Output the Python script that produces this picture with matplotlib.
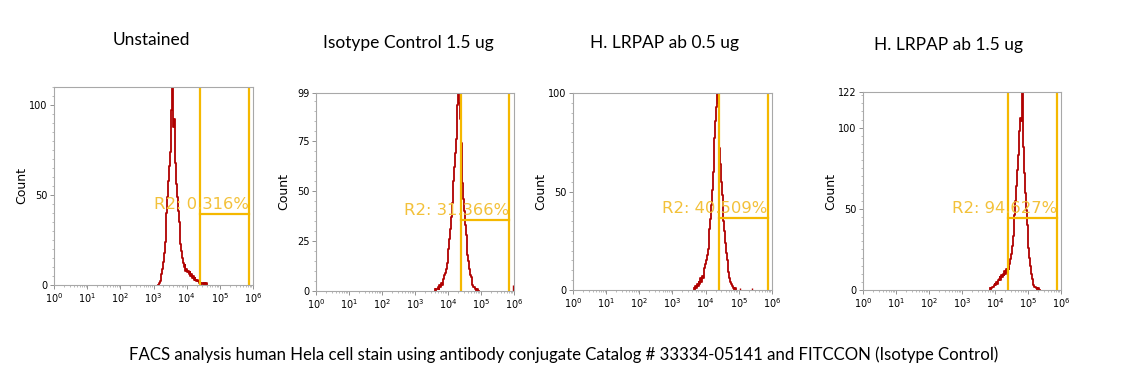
import numpy as np
import matplotlib
matplotlib.use("Agg")
import matplotlib.pyplot as plt
from matplotlib.ticker import LogLocator, LogFormatterSciNotation, FixedLocator, MultipleLocator, NullFormatter

# panel titles and gate results
titles = ["Unstained", "Isotype Control 1.5 ug", "H. LRPAP ab 0.5 ug", "H. LRPAP ab 1.5 ug"]
gate_labels = ["R2: 0.316%", "R2: 31.366%", "R2: 40.509%", "R2: 94.627%"]
caption = "FACS analysis human Hela cell stain using antibody conjugate Catalog # 33334-05141 and FITCCON (Isotype Control)"

# y axis setup per panel
y_max = [110, 99, 100, 122]
y_ticks = [[0, 50, 100], [0, 25, 50, 75, 99], [0, 50, 100], [0, 50, 100, 122]]

# gate (log10 of left/right edge) and height of the horizontal marker
gate_lo = [4.40, 4.39, 4.40, 4.39]
gate_hi = [5.87, 5.85, 5.87, 5.88]
gate_y = [39.5, 35.5, 36.5, 44.5]

# histogram channels, log10 start and width
bin_w = 0.025
start1 = 3.15
counts1 = [0, 1, 2, 3, 6, 9, 13, 18, 24, 32, 40, 49, 58, 66, 74, 86, 97, 110, 88, 92,
           76, 68, 56, 49, 41, 35, 29, 23, 19, 15, 12, 10, 11, 8, 9, 7, 8, 6, 7, 5,
           6, 4, 5, 3, 4, 3, 2, 3, 2, 1, 2, 1, 0, 1, 1, 0, 1, 0, 1, 0]
start2 = 3.60
counts2 = [1, 0, 1, 1, 2, 1, 3, 2, 4, 3, 5, 6, 8, 9, 11, 14, 17, 21, 26, 31,
           37, 44, 50, 55, 62, 69, 76, 84, 93, 99, 94, 86, 74, 63, 54, 46, 40, 33, 28, 23,
           18, 15, 11, 8, 7, 5, 3, 2, 2, 1, 1, 0, 1, 0]
start3 = 3.65
counts3 = [1, 0, 2, 1, 3, 2, 4, 3, 6, 4, 7, 6, 9, 11, 13, 15, 18, 21, 26, 31,
           36, 43, 51, 60, 69, 77, 86, 93, 100, 95, 91, 72, 64, 55, 48, 41, 35, 30, 24, 19,
           15, 12, 9, 6, 4, 3, 2, 1, 1, 0, 1, 0]
start4 = 3.85
counts4 = [1, 0, 1, 2, 2, 3, 4, 3, 5, 4, 6, 7, 8, 6, 9, 8, 10, 9, 12, 10,
           13, 11, 14, 13, 16, 19, 22, 27, 33, 39, 46, 55, 64, 74, 83, 90, 98, 106, 104, 122,
           108, 88, 72, 60, 49, 40, 31, 26, 20, 15, 10, 7, 5, 3, 2, 2, 1, 1, 0, 1, 0]
starts = [start1, start2, start3, start4]
counts = [counts1, counts2, counts3, counts4]

# stray events away from the main peak (log10 channel, count)
extra_x = [[], [5.98], [5.03, 5.41], []]
extra_y = [[], [3], [1, 1], []]

# axes boxes in figure pixels: left, right, top, bottom
boxes = [(54, 253, 87, 285), (316, 514, 93, 291), (573, 772, 93, 290), (863, 1061, 92, 290)]
title_pos = [(151, 40), (408, 43), (665, 43), (948, 45)]

W, H = 1139, 392
hist_color = "#b00000"
gate_color = "#f5b800"
text_color = "#f3c13a"

fig = plt.figure(figsize=(W / 100, H / 100), dpi=100)

for i in range(4):
    l, r, t, b = boxes[i]
    ax = fig.add_axes([l / W, 1 - b / H, (r - l) / W, (b - t) / H])

    x = 10 ** (starts[i] + bin_w * np.arange(len(counts[i])))
    ax.plot(x, counts[i], drawstyle="steps-mid", color=hist_color, lw=1.3)
    for ex, ey in zip(extra_x[i], extra_y[i]):
        ax.vlines(10 ** ex, 0, ey, color=hist_color, lw=1.0)

    lo, hi = 10 ** gate_lo[i], 10 ** gate_hi[i]
    ax.text(hi, gate_y[i] + 1, gate_labels[i], color=text_color, fontsize=11.8,
            ha="right", va="bottom", family="DejaVu Sans")
    ax.axvline(lo, color=gate_color, lw=1.6)
    ax.axvline(hi, color=gate_color, lw=1.6)
    ax.plot([lo, hi], [gate_y[i], gate_y[i]], color=gate_color, lw=1.6)

    ax.set_xscale("log")
    ax.set_xlim(1, 1e6)
    ax.set_ylim(0, y_max[i])
    ax.xaxis.set_major_locator(LogLocator(base=10, numticks=10))
    ax.xaxis.set_major_formatter(LogFormatterSciNotation())
    ax.xaxis.set_minor_locator(LogLocator(base=10, subs=np.arange(2, 10), numticks=20))
    ax.xaxis.set_minor_formatter(NullFormatter())
    ax.yaxis.set_major_locator(FixedLocator(y_ticks[i]))
    ax.yaxis.set_minor_locator(MultipleLocator(5))
    ax.tick_params(which="major", length=3, width=0.6, color="#808080", labelsize=7, pad=1.5)
    ax.tick_params(which="minor", length=1.5, width=0.5, color="#a0a0a0")
    ax.set_ylabel("Count", fontsize=9)
    ax.yaxis.set_label_coords(-26 / (r - l), 0.5)
    for s in ax.spines.values():
        s.set_color("#a8a8a8")
        s.set_linewidth(0.8)

    fig.text(title_pos[i][0] / W, 1 - title_pos[i][1] / H, titles[i], fontsize=12.5,
             family="Lato", ha="center", va="center")

fig.text(564 / W, 1 - 355 / H, caption, fontsize=12.1, family="Lato", ha="center", va="center")

fig.savefig("out.png", dpi=100)
